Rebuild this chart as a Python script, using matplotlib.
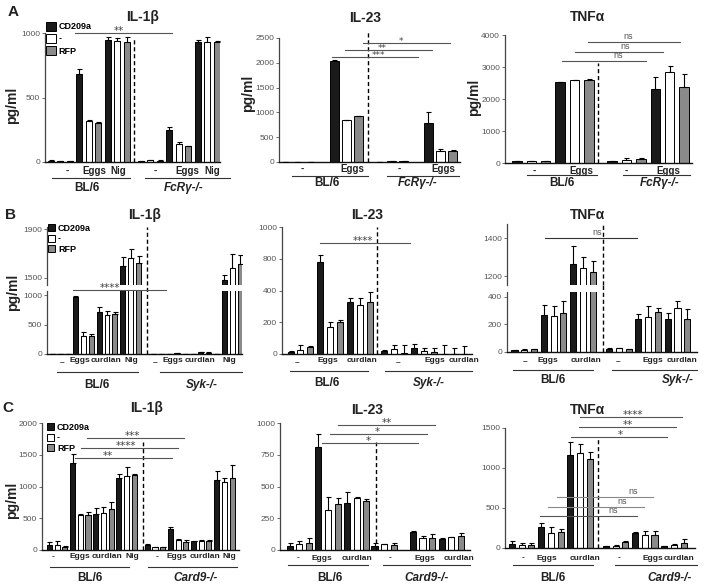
import numpy as np
import matplotlib
matplotlib.use('Agg')
import matplotlib.pyplot as plt
from matplotlib.patches import Patch
from matplotlib.transforms import offset_copy

plt.rcParams['font.family'] = ['Liberation Sans', 'DejaVu Sans']

# ---------------- data ----------------
legend_labels = ['CD209a', '-', 'RFP']

# Row A (BL/6 vs FcRγ-/-)
a1_conditions = ['-', 'Eggs', 'Nig']
a1_bl6 = [10, 8, 8, 686, 316, 303, 943, 938, 933]
a1_bl6_sem = [4, 3, 3, 36, 6, 5, 26, 26, 36]
a1_fcr = [8, 15, 10, 251, 142, 122, 933, 933, 930]
a1_fcr_sem = [2, 4, 3, 19, 13, 5, 13, 36, 5]

a2_conditions = ['-', 'Eggs']
a2_bl6 = [5, 5, 5, 2043, 840, 920]
a2_bl6_sem = [0, 0, 0, 10, 13, 14]
a2_fcr = [8, 15, 20, 780, 215, 228]
a2_fcr_sem = [0, 2, 2, 220, 54, 14]

a3_conditions = ['-', 'Eggs']
a3_bl6 = [73, 73, 52, 2525, 2597, 2608]
a3_bl6_sem = [5, 5, 5, 10, 10, 10]
a3_fcr = [52, 104, 125, 2317, 2857, 2390]
a3_fcr_sem = [5, 52, 31, 363, 187, 394]

# Row B (BL/6 vs Syk-/-)
b1_conditions = ['_', 'Eggs', 'curdlan', 'Nig']
b1_bl6 = [4, 4, 4, 971, 310, 305, 717, 661, 678, 1599, 1660, 1619]
b1_bl6_sem = [0, 0, 0, 19, 68, 39, 85, 68, 39, 69, 75, 63]
b1_syk = [3, 5, 5, 20, 8, 8, 30, 25, 8, 1481, 1580, 1613]
b1_syk_sem = [0, 0, 0, 5, 0, 0, 8, 5, 0, 41, 116, 75]

b2_conditions = ['_', 'Eggs', 'curdlan']
b2_bl6 = [14, 28, 44, 760, 170, 200, 325, 310, 330]
b2_bl6_sem = [6, 27, 6, 65, 30, 12, 27, 42, 58]
b2_syk = [20, 34, 5, 40, 18, 14, 3, 2, 3]
b2_syk_sem = [3, 25, 54, 25, 20, 24, 56, 36, 45]

b3_conditions = ['_', 'Eggs', 'curdlan']
b3_bl6 = [12, 17, 19, 271, 262, 286, 1264, 1244, 1223]
b3_bl6_sem = [2, 2, 2, 73, 70, 82, 92, 55, 58]
b3_syk = [24, 27, 22, 240, 252, 291, 238, 323, 240]
b3_syk_sem = [2, 5, 2, 39, 83, 32, 48, 48, 70]

# Row C (BL/6 vs Card9-/-)
c1_conditions = ['-', 'Eggs', 'curdlan', 'Nig']
c1_bl6 = [79, 79, 47, 1372, 550, 550, 560, 576, 644, 1141, 1168, 1188]
c1_bl6_sem = [52, 68, 11, 146, 10, 52, 94, 105, 115, 63, 141, 11]
c1_card9 = [73, 42, 47, 330, 157, 131, 141, 147, 147, 1110, 1073, 1126]
c1_card9_sem = [26, 5, 5, 26, 11, 26, 5, 10, 5, 131, 63, 209]

c2_conditions = ['-', 'Eggs', 'curdlan']
c2_bl6 = [34, 47, 58, 810, 316, 360, 368, 408, 389]
c2_bl6_sem = [19, 27, 39, 103, 105, 48, 87, 13, 14]
c2_card9 = [34, 45, 37, 145, 92, 92, 84, 100, 113]
c2_card9_sem = [19, 5, 18, 8, 21, 32, 8, 5, 19]

c3_conditions = ['-', 'Eggs', 'curdlan']
c3_bl6 = [50, 42, 33, 258, 192, 200, 1158, 1188, 1117]
c3_bl6_sem = [42, 20, 34, 54, 70, 42, 167, 116, 83]
c3_card9 = [25, 29, 71, 188, 167, 158, 21, 42, 62]
c3_card9_sem = [4, 4, 21, 8, 41, 59, 8, 8, 55]

# ---------------- figure ----------------
W, H = 704, 585
fig = plt.figure(figsize=(W / 100, H / 100), dpi=100)
COLORS = ['#1a1a1a', '#ffffff', '#8a8a8a']
TXT = '#222222'


def make_ax(L, R, T, B):
    return fig.add_axes([L / W, 1 - B / H, (R - L) / W, (B - T) / H])


def style_ax(ax, bottom=True):
    for s in ['top', 'right']:
        ax.spines[s].set_visible(False)
    ax.spines['left'].set_color('#444444')
    ax.spines['left'].set_linewidth(0.9)
    ax.spines['bottom'].set_color('#111111')
    ax.spines['bottom'].set_linewidth(1.0)
    if not bottom:
        ax.spines['bottom'].set_visible(False)
    ax.set_xticks([])
    ax.tick_params(axis='y', labelsize=6, colors='#555555', length=2, width=0.6, pad=1.5)
    ax.patch.set_alpha(0)


def bars(ax, pos, vals, sems, width):
    cols = [COLORS[i % 3] for i in range(len(vals))]
    ax.bar(pos, vals, width=width, color=cols, edgecolor='black', linewidth=0.7, zorder=2)
    ax.errorbar(pos, vals, yerr=[np.zeros(len(vals)), sems], fmt='none', ecolor='black',
                elinewidth=0.8, capsize=1.8, capthick=0.8, zorder=3)


def dashed(ax, x, y0, y1):
    ax.plot([x, x], [y0, y1], color='black', lw=1.0, ls=(0, (3, 2)), clip_on=False, zorder=4)


def under(ax, dy):
    return offset_copy(ax.get_xaxis_transform(), fig=fig, x=0, y=-dy, units='dots')


def xlabels(ax, xs, labels, dy, line_rng, line_dy, geno, geno_x, geno_dy, italic=False, fs=7):
    for x, s in zip(xs, labels):
        off = dy + (2 if s == '_' else 0)
        ax.text(x, 0, s if s != '_' else '–', transform=under(ax, off), ha='center', va='center',
                fontsize=fs, fontweight='bold', color=TXT, clip_on=False)
    ax.plot(line_rng, [0, 0], transform=under(ax, line_dy), color='#333333', lw=0.8, clip_on=False)
    ax.text(geno_x, 0, geno, transform=under(ax, geno_dy), ha='center', va='center',
            fontsize=8.5, fontweight='bold', color=TXT, style='italic' if italic else 'normal',
            clip_on=False)


def sig(ax, x0, x1, y, label, tx, color='#555555', fs=7.5):
    ax.plot([x0, x1], [y, y], color=color, lw=0.8, clip_on=False, zorder=5)
    if label == 'ns':
        ax.text(tx, y, label, transform=offset_copy(ax.transData, fig=fig, y=1, units='dots'),
                ha='center', va='bottom', fontsize=6.5, color='#555555', clip_on=False)
    else:
        ax.text(tx, y, label, transform=offset_copy(ax.transData, fig=fig, y=-3, units='dots'),
                ha='center', va='bottom', fontsize=fs, color='#444444', clip_on=False,
                family='DejaVu Sans')


def ftext(x, y, s, **kw):
    fig.text(x / W, 1 - y / H, s, **kw)


def legend(x, y, hsize, spacing):
    handles = [Patch(facecolor=c, edgecolor='black', linewidth=0.7) for c in COLORS]
    fig.legend(handles, legend_labels, loc='upper left', bbox_to_anchor=(x / W, 1 - y / H),
               frameon=False, prop={'size': 6.5, 'weight': 'bold'}, handlelength=hsize,
               handleheight=hsize, handletextpad=0.3, labelspacing=spacing, borderpad=0,
               borderaxespad=0)


def ylab(x, y):
    ftext(x, y, 'pg/ml', rotation=90, ha='center', va='center', fontsize=10, fontweight='bold', color=TXT)


# ================= Row A =================
# A1 IL-1b
ax = make_ax(45, 220, 33, 162)
style_ax(ax)
p1 = np.arange(9)
p2 = 9.52 + np.arange(9)
bars(ax, p1, a1_bl6, a1_bl6_sem, 0.64)
bars(ax, p2, a1_fcr, a1_fcr_sem, 0.64)
ax.set_xlim(-0.63, 17.88)
ax.set_ylim(0, 1000)
ax.set_yticks([0, 500, 1000])
dashed(ax, 8.76, 0, 969)
xlabels(ax, [1.7, 4.55, 7.1], a1_conditions, 9, [0.1, 8.36], 16, 'BL/6', 3.8, 26)
xlabels(ax, [11.0, 14.4, 17.1], a1_conditions, 9, [9.95, 18.94], 16, 'FcRγ-/-', 14.0, 26, italic=True)
sig(ax, 2.54, 12.8, 1000, '**', 7.2)

# A2 IL-23
ax = make_ax(279, 460, 38, 162)
style_ax(ax)
q = np.array([0, 1, 2, 4, 5, 6])
bars(ax, q, a2_bl6, a2_bl6_sem, 0.74)
bars(ax, 7.7 + q, a2_fcr, a2_fcr_sem, 0.74)
ax.set_xlim(-0.5, 14.3)
ax.set_ylim(0, 2500)
ax.set_yticks([0, 500, 1000, 1500, 2000, 2500])
dashed(ax, 6.8, 0, 2661)
xlabels(ax, [1.4, 5.5], a2_conditions, 7, [0.57, 6.8], 14, 'BL/6', 3.44, 21)
xlabels(ax, [9.3, 12.95], a2_conditions, 7, [8.36, 14.2], 14, 'FcRγ-/-', 10.8, 21, italic=True)
sig(ax, 6.4, 13.45, 2399, '*', 9.5, fs=6.5)
sig(ax, 4.9, 12.05, 2258, '**', 7.95, fs=6.5)
sig(ax, 3.85, 10.9, 2117, '***', 7.6, fs=6.5)

# A3 TNFa
ax = make_ax(505, 692, 35, 163)
style_ax(ax)
q = np.arange(6)
bars(ax, q, a3_bl6, a3_bl6_sem, 0.65)
bars(ax, 6.6 + q, a3_fcr, a3_fcr_sem, 0.65)
ax.set_xlim(-0.83, 12.15)
ax.set_ylim(0, 4000)
ax.set_yticks([0, 1000, 2000, 3000, 4000])
dashed(ax, 5.6, 0, 3125)
xlabels(ax, [1.18, 4.5], a3_conditions, 8, [0.7, 5.55], 12, 'BL/6', 3.1, 20)
xlabels(ax, [7.6, 10.5], a3_conditions, 8, [7.36, 12.0], 12, 'FcRγ-/-', 9.9, 20, italic=True)
sig(ax, 4.93, 11.3, 3781, 'ns', 7.7)
sig(ax, 4.03, 10.14, 3469, 'ns', 7.5)
sig(ax, 3.125, 8.96, 3188, 'ns', 7.0)

# ================= Row B =================
# B1 IL-1b broken axis
q = np.arange(12)
axu = make_ax(47, 242, 227, 285)
axl = make_ax(47, 242, 291, 354)
style_ax(axu, bottom=False)
style_ax(axl)
for a in (axu, axl):
    bars(a, q, b1_bl6, b1_bl6_sem, 0.63)
    bars(a, 12.85 + q, b1_syk, b1_syk_sem, 0.63)
    a.set_xlim(-0.6, 24.1)
axu.set_ylim(1440, 1919)
axu.set_yticks([1500, 1900])
axl.set_ylim(0, 1068)
axl.set_yticks([0, 500, 1000])
dashed(axl, 12.05, 0, 1170)
dashed(axu, 12.05, 1440, 1919)
xlabels(axl, [1.3, 3.57, 6.86, 10.15], b1_conditions, 7, [0.66, 10.9], 18, 'BL/6', 5.7, 31, fs=6)
xlabels(axl, [13.06, 15.34, 18.76, 22.56], b1_conditions, 7, [13.7, 24.1], 18, 'Syk-/-', 19.0, 31,
        italic=True, fs=6)
sig(axl, 2.7, 14.45, 1085, '****', 7.4)

# B2 IL-23 (segmented scale)
def seg_fwd(v):
    v = np.asarray(v, dtype=float)
    return np.where(v <= 400, v, np.where(v <= 800, 400 + (v - 400) / 2, 600 + (v - 800)))


def seg_inv(t):
    t = np.asarray(t, dtype=float)
    return np.where(t <= 400, t, np.where(t <= 600, 400 + (t - 400) * 2, 800 + (t - 600)))


ax = make_ax(282, 472, 227, 354)
style_ax(ax)
ax.set_yscale('function', functions=(seg_fwd, seg_inv))
q = np.arange(9)
bars(ax, q, b2_bl6, b2_bl6_sem, 0.6)
bars(ax, 9.45 + q, b2_syk, b2_syk_sem, 0.6)
ax.set_xlim(-0.86, 18.3)
ax.set_ylim(0, 1000)
ax.set_yticks([0, 200, 400, 800, 1000])
ax.set_yticklabels(['0', '200', '400', '800', '1000'])
ax.yaxis.set_minor_locator(matplotlib.ticker.NullLocator())
dashed(ax, 8.74, 0, 1000)
xlabels(ax, [0.66, 3.8, 7.2], b2_conditions, 7, [-0.05, 7.8], 17, 'BL/6', 3.7, 29, fs=6)
xlabels(ax, [10.86, 14.6, 17.5], b2_conditions, 7, [9.55, 18.3], 17, 'Syk-/-', 13.9, 29,
        italic=True, fs=6)
sig(ax, 2.98, 12.07, 899, '****', 7.3)

# B3 TNFa broken axis
q = np.arange(9)
axu = make_ax(507, 697, 224, 285)
axl = make_ax(507, 697, 292, 352)
style_ax(axu, bottom=False)
style_ax(axl)
for a in (axu, axl):
    bars(a, q, b3_bl6, b3_bl6_sem, 0.62)
    bars(a, 9.7 + q, b3_syk, b3_syk_sem, 0.62)
    a.set_xlim(-0.77, 18.7)
axu.set_ylim(1153, 1474)
axu.set_yticks([1200, 1400])
axl.set_ylim(0, 436)
axl.set_yticks([0, 200, 400])
dashed(axl, 9.08, 0, 487)
dashed(axu, 9.08, 1153, 1474)
xlabels(axl, [1.08, 3.44, 7.33], b3_conditions, 8, [-0.15, 8.05], 18, 'BL/6', 3.95, 28, fs=6)
xlabels(axl, [10.6, 14.2, 17.2], b3_conditions, 8, [10.0, 18.7], 18, 'Syk-/-', 16.7, 28,
        italic=True, fs=6)
sig(axu, 3.13, 12.56, 1400, 'ns', 8.46, color='#333333')

# ================= Row C =================
# C1 IL-1b
ax = make_ax(42, 239, 423, 550)
style_ax(ax)
q = np.arange(12)
bars(ax, q, c1_bl6, c1_bl6_sem, 0.66)
bars(ax, 12.7 + q, c1_card9, c1_card9_sem, 0.66)
ax.set_xlim(-0.97, 24.6)
ax.set_ylim(0, 2000)
ax.set_yticks([0, 500, 1000, 1500, 2000])
dashed(ax, 12.1, 0, 1700)
xlabels(ax, [0.45, 3.96, 7.47, 10.7], c1_conditions, 7, [0.06, 10.3], 17, 'BL/6', 5.26, 28, fs=6)
xlabels(ax, [13.96, 16.56, 20.2, 23.4], c1_conditions, 7, [12.8, 24.35], 17, 'Card9-/-', 18.9, 28,
        italic=True, fs=6)
sig(ax, 4.87, 17.47, 1764, '***', 10.8)
sig(ax, 4.09, 16.69, 1606, '****', 9.9)
sig(ax, 3.3, 15.9, 1449, '**', 7.6)

# C2 IL-23
ax = make_ax(280, 470, 423, 550)
style_ax(ax)
bars(ax, np.arange(9), c2_bl6, c2_bl6_sem, 0.64)
bars(ax, 8.85 + np.array([0, 1, 2, 4, 5, 6, 7, 8, 9]), c2_card9, c2_card9_sem, 0.64)
ax.set_xlim(-1.0, 18.8)
ax.set_ylim(0, 1000)
ax.set_yticks([0, 250, 500, 750, 1000])
dashed(ax, 9.0, 0, 850)
xlabels(ax, [0.86, 3.36, 7.0], c2_conditions, 8, [-0.18, 8.16], 15, 'BL/6', 4.2, 28, fs=6)
xlabels(ax, [10.45, 14.1, 17.7], c2_conditions, 8, [9.7, 18.8], 15, 'Card9-/-', 14.3, 28,
        italic=True, fs=6)
sig(ax, 5.03, 15.14, 984, '**', 10.1)
sig(ax, 4.2, 14.3, 913, '*', 9.1)
sig(ax, 3.36, 13.37, 843, '*', 8.2)

# C3 TNFa
ax = make_ax(505, 695, 428, 548)
style_ax(ax)
q = np.arange(9)
bars(ax, q, c3_bl6, c3_bl6_sem, 0.62)
bars(ax, 9.64 + q, c3_card9, c3_card9_sem, 0.62)
ax.set_xlim(-0.72, 18.8)
ax.set_ylim(0, 1500)
ax.set_yticks([0, 500, 1000, 1500])
dashed(ax, 8.8, 0, 1375)
xlabels(ax, [1.13, 3.6, 7.5], c3_conditions, 10, [0.1, 8.3], 17, 'BL/6', 4.2, 30, fs=6)
xlabels(ax, [11.0, 14.5, 17.2], c3_conditions, 10, [10.56, 19.0], 17, 'Card9-/-', 16.2, 30,
        italic=True, fs=6)
sig(ax, 6.97, 17.5, 1637, '****', 12.4)
sig(ax, 6.87, 16.8, 1512, '**', 11.9)
sig(ax, 6.05, 15.9, 1387, '*', 11.1)
sig(ax, 4.6, 14.5, 637, 'ns', 12.4, color='#888888')
sig(ax, 3.7, 13.6, 512, 'ns', 11.3, color='#888888')
sig(ax, 2.87, 12.8, 400, 'ns', 10.4, color='#555555')

# ---------------- titles, letters, labels, legends ----------------
for (x, y, s) in [(143, 17, 'IL-1β'), (365, 18, 'IL-23'), (588, 17, 'TNFα'),
                  (145, 215, 'IL-1β'), (367, 215, 'IL-23'), (587, 215, 'TNFα'),
                  (147, 408, 'IL-1β'), (367, 410, 'IL-23'), (587, 410, 'TNFα')]:
    ftext(x, y, s, ha='center', va='center', fontsize=10, fontweight='bold', color=TXT)

for (x, y, s) in [(13, 12, 'A'), (10, 215, 'B'), (8, 408, 'C')]:
    ftext(x, y, s, ha='center', va='center', fontsize=11, fontweight='bold', color=TXT)

for (x, y) in [(12, 105), (248, 93), (474, 97), (13, 292), (12, 500)]:
    ylab(x, y)

legend(46, 22, 1.1, 0.3)
legend(48, 224, 0.8, 0.15)
legend(47, 423, 0.8, 0.15)

fig.savefig('out.png', dpi=100)
